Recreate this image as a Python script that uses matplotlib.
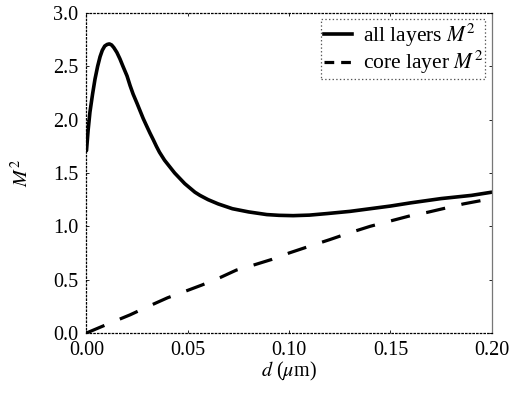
import matplotlib
matplotlib.use("Agg")
import matplotlib.pyplot as plt
from matplotlib.lines import Line2D

plt.rcParams['font.family'] = ['Liberation Serif', 'DejaVu Serif']
plt.rcParams['mathtext.fontset'] = 'stix'
plt.rcParams['lines.scale_dashes'] = False

# all layers M^2
d_all = [0.0, 0.0008, 0.0017, 0.003, 0.0042, 0.0055, 0.0067, 0.0078, 0.009, 0.0102,
         0.0113, 0.0124, 0.0135, 0.015, 0.0165, 0.018, 0.020, 0.0215, 0.023, 0.025,
         0.0265, 0.028, 0.0297, 0.0313, 0.033, 0.0345, 0.036, 0.0385, 0.041, 0.0435,
         0.046, 0.0485, 0.051, 0.0535, 0.056, 0.060, 0.065, 0.072, 0.080, 0.089,
         0.095, 0.102, 0.110, 0.119, 0.130, 0.140, 0.150, 0.160, 0.175, 0.190,
         0.200]
m_all = [1.71, 1.90, 2.07, 2.24, 2.38, 2.50, 2.59, 2.65, 2.69, 2.705,
         2.71, 2.70, 2.675, 2.63, 2.57, 2.50, 2.41, 2.32, 2.24, 2.15,
         2.08, 2.01, 1.94, 1.875, 1.81, 1.75, 1.695, 1.62, 1.56, 1.50,
         1.45, 1.40, 1.36, 1.32, 1.29, 1.25, 1.21, 1.165, 1.135, 1.11,
         1.103, 1.10, 1.105, 1.12, 1.14, 1.165, 1.19, 1.22, 1.26, 1.29,
         1.32]

# core layer M^2
d_core = [0.0, 0.010, 0.0215, 0.030, 0.040, 0.050, 0.057, 0.066, 0.074, 0.083,
          0.0915, 0.100, 0.1095, 0.120, 0.130, 0.140, 0.150, 0.160, 0.168, 0.177,
          0.186, 0.200]
m_core = [0.0, 0.08, 0.17, 0.245, 0.33, 0.40, 0.45, 0.52, 0.59, 0.64,
          0.69, 0.75, 0.81, 0.875, 0.94, 1.00, 1.05, 1.10, 1.13, 1.17,
          1.21, 1.26]

labels = ['all layers $M^2$', 'core layer $M^2$']
xticks = [0.00, 0.05, 0.10, 0.15, 0.20]
yticks = [0.0, 0.5, 1.0, 1.5, 2.0, 2.5, 3.0]

fig = plt.figure(figsize=(5.13, 3.93), dpi=100)
ax = fig.add_axes([0.1686, 0.1527, 0.79, 0.8143])

ax.plot(d_all, m_all, color='black', lw=2.6, solid_capstyle='round',
        solid_joinstyle='round')
ax.plot(d_core, m_core, color='black', lw=2.3, linestyle=(0, (14, 12)))

ax.set_xlim(0, 0.2)
ax.set_ylim(0, 3.0)
ax.set_xticks(xticks)
ax.set_xticklabels([f'{v:.2f}' for v in xticks])
ax.set_yticks(yticks)
ax.set_yticklabels([f'{v:.1f}' for v in yticks])
ax.tick_params(direction='in', length=2, width=0.6, labelsize=14.5, pad=6,
               top=True, right=True)

for s in ['left', 'bottom', 'top']:
    ax.spines[s].set_linestyle(':')
    ax.spines[s].set_linewidth(0.9)
ax.spines['right'].set_color('#777777')
ax.spines['right'].set_linewidth(0.9)

ax.set_xlabel(r'$d$ ($\mu$m)', fontsize=14.5, labelpad=0)
ax.set_ylabel(r'$M^2$', fontsize=14.5, labelpad=14)

handles = [Line2D([], [], color='black', lw=2.6),
           Line2D([], [], color='black', lw=2.3, linestyle=(0, (7, 5)))]
leg = ax.legend(handles, labels, loc='upper right', fontsize=15.5,
                fancybox=False, framealpha=1, edgecolor='#555555',
                handlelength=1.3, handletextpad=0.5, borderpad=0.12,
                labelspacing=0.0, borderaxespad=0.3)
leg.get_frame().set_linestyle(':')
leg.get_frame().set_linewidth(0.9)

fig.savefig('out.png', dpi=100)
